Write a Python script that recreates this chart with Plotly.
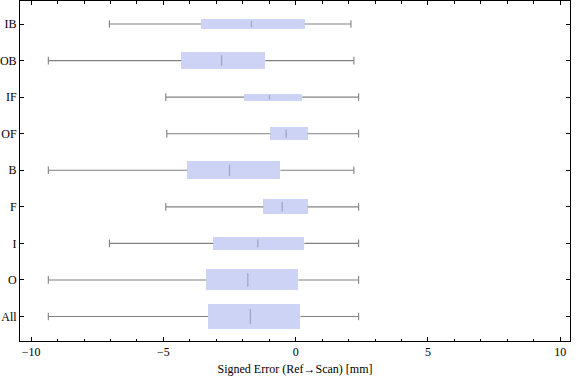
import plotly.graph_objects as go

categories = ["All", "O", "I", "F", "B", "OF", "IF", "OB", "IB"]
lower_whisker = [-9.35, -9.35, -7.04, -4.91, -9.35, -4.87, -4.91, -9.35, -7.04]
q1 = [-3.31, -3.38, -3.12, -1.22, -4.10, -0.96, -1.95, -4.33, -3.57]
median = [-1.71, -1.81, -1.43, -0.51, -2.50, -0.36, -0.99, -2.80, -1.67]
q3 = [0.18, 0.10, 0.33, 0.45, -0.58, 0.45, 0.25, -1.15, 0.35]
upper_whisker = [2.38, 2.38, 2.38, 2.38, 2.20, 2.38, 2.38, 2.20, 2.09]
box_widths = [0.66, 0.575, 0.34, 0.41, 0.49, 0.365, 0.19, 0.447, 0.274]

x_ticks = [-10, -5, 0, 5, 10]
x_title = "Signed Error (Ref\u2192Scan) [mm]"

W, H = 576, 381
margin = dict(l=20, r=6, t=1, b=40)
y_range = [-0.67, 8.63]
x_range = [-10.42, 10.37]
px_per_y = (H - margin["t"] - margin["b"]) / (y_range[1] - y_range[0])

ypos = list(range(len(categories)))
cap = 0.105

# whisker segments
wx, wy = [], []
for i, y in enumerate(ypos):
    lo, a, b, hi = lower_whisker[i], q1[i], q3[i], upper_whisker[i]
    wx += [lo, lo, None, lo, a, None, b, hi, None, hi, hi, None]
    wy += [y - cap, y + cap, None, y, y, None, y, y, None, y - cap, y + cap, None]

fig = go.Figure()
fig.add_trace(go.Bar(
    y=ypos, x=[b - a for a, b in zip(q1, q3)], base=q1, width=box_widths,
    orientation="h", marker=dict(color="#CDD3F5", line=dict(width=0)),
    hoverinfo="skip", showlegend=False))
fig.add_trace(go.Scatter(
    x=wx, y=wy, mode="lines", line=dict(color="#808080", width=1.1),
    hoverinfo="skip", showlegend=False))
fig.add_trace(go.Scatter(
    x=median, y=ypos, mode="markers",
    marker=dict(symbol="line-ns", size=[0.45 * w * px_per_y for w in box_widths],
                line=dict(color="rgba(120,120,135,0.7)", width=1.3)),
    hoverinfo="skip", showlegend=False))

font = dict(family="Liberation Serif", size=12, color="#000000")
fig.update_layout(
    width=W, height=H, margin=margin,
    paper_bgcolor="white", plot_bgcolor="white",
    font=font, bargap=0, hovermode=False,
    xaxis=dict(range=x_range, tickvals=x_ticks, ticktext=["\u221210", "\u22125", "0", "5", "10"],
               ticks="inside", ticklen=4, tickcolor="#000", tickwidth=1,
               minor=dict(dtick=1, tick0=0, ticks="inside", ticklen=2.5, tickcolor="#000", showgrid=False),
               showline=True, linecolor="#000", linewidth=1, mirror="ticks",
               showgrid=False, zeroline=False, automargin=False,
               title=dict(text=x_title, font=font, standoff=6)),
    yaxis=dict(range=y_range, tickvals=ypos, ticktext=categories,
               ticks="inside", ticklen=4, tickcolor="#000", tickwidth=1,
               showline=True, linecolor="#000", linewidth=1, mirror="ticks",
               showgrid=False, zeroline=False, automargin=False),
)
fig.write_html("out.html", config={"displayModeBar": False},
               post_script="document.body.style.margin='0';")
